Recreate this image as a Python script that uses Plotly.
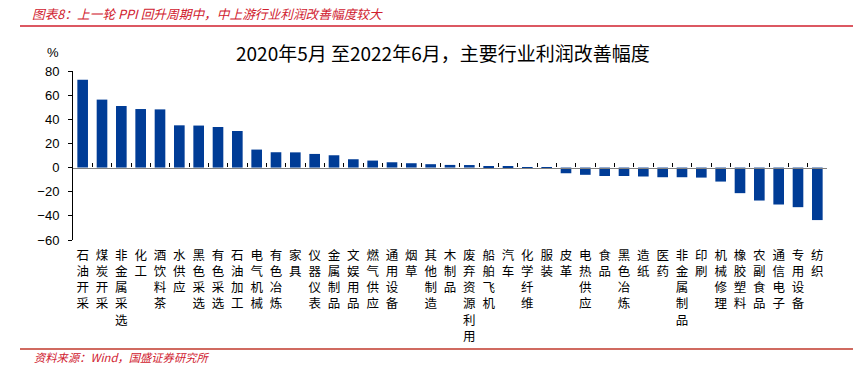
import plotly.graph_objects as go

categories = ["石油开采", "煤炭开采", "非金属采选", "化工", "酒饮料茶", "水供应", "黑色采选",
              "有色采选", "石油加工", "电气机械", "有色冶炼", "家具", "仪器仪表", "金属制品",
              "文娱用品", "燃气供应", "通用设备", "烟草", "其他制造", "木制品", "废弃资源利用",
              "船舶飞机", "汽车", "化学纤维", "服装", "皮革", "电热供应", "食品", "黑色冶炼",
              "造纸", "医药", "非金属制品", "印刷", "机械修理", "橡胶塑料", "农副食品",
              "通信电子", "专用设备", "纺织"]
values = [72.7, 56.3, 51.0, 48.5, 48.2, 35.0, 34.8, 33.6, 30.3, 14.9, 12.7, 12.6, 11.3, 10.2,
          6.9, 5.8, 4.4, 3.6, 2.8, 2.2, 2.1, 1.1, 0.8, 0.3, -1.0, -4.7, -6.0, -7.0, -7.0,
          -7.4, -8.0, -8.0, -8.3, -11.6, -21.2, -27.3, -30.6, -32.8, -43.5]
y_ticks = [-60, -40, -20, 0, 20, 40, 60, 80]

header = "图表8：上一轮 PPI 回升周期中，中上游行业利润改善幅度较大"
title = "2020年5月 至2022年6月，主要行业利润改善幅度"
source = "资料来源：Wind，国盛证券研究所"

RED = "#D0202E"
BLUE = "#003C96"
CJK = "Noto Sans CJK SC"

labels = ["<br>".join(list(c)) for c in categories]

fig = go.Figure()
fig.add_trace(go.Bar(x=labels, y=values, marker=dict(color=BLUE, line=dict(width=0)),
                     width=0.55, showlegend=False, hoverinfo="x+y"))
# invisible trace for the zero-crossing axis
fig.add_trace(go.Scatter(x=labels, y=[0] * len(labels), xaxis="x2", mode="none",
                         showlegend=False, hoverinfo="skip"))

L, R, T, B = 73, 26, 71, 125
W, H = 853, 365
pw, ph = W - L - R, H - T - B

def px_x(x):
    return (x - L) / pw

def px_y(y):
    return (H - B - y) / ph

fig.update_layout(
    width=W, height=H,
    margin=dict(l=L, r=R, t=T, b=B, autoexpand=False),
    paper_bgcolor="white", plot_bgcolor="white",
    font=dict(family=CJK, color="#000000"),
    xaxis=dict(type="category", showline=False, ticks="", showgrid=False, automargin=False,
               tickfont=dict(family=CJK, size=12.5, color="#000"), tickangle=0,
               ticklabelstandoff=6, range=[-0.5, len(categories) - 0.5]),
    xaxis2=dict(type="category", overlaying="x", matches="x", anchor="free",
                position=60 / 140, side="bottom", showline=True, linecolor="#808080",
                linewidth=1.3, ticks="inside", tickson="boundaries", ticklen=4,
                tickcolor="#000", tickwidth=1, showticklabels=False, showgrid=False),
    yaxis=dict(range=[-60, 80], tickvals=y_ticks, showgrid=False, zeroline=False,
               showline=True, linecolor="#000", linewidth=1, ticks="outside", ticklen=4,
               tickcolor="#000", ticklabelstandoff=6, automargin=False,
               tickfont=dict(family="Liberation Sans", size=13, color="#000")),
    bargap=0.45,
)

fig.add_annotation(text="<i>" + header + "</i>", xref="paper", yref="paper",
                   x=px_x(30), y=px_y(13), xanchor="left", yanchor="middle",
                   showarrow=False, font=dict(family=CJK, size=12.7, color=RED))
fig.add_annotation(text=title, xref="paper", yref="paper", x=px_x(443), y=px_y(52),
                   xanchor="center", yanchor="middle", showarrow=False,
                   font=dict(family=CJK, size=19, color="#000"))
fig.add_annotation(text="%", xref="paper", yref="paper", x=px_x(53), y=px_y(53),
                   xanchor="center", yanchor="middle", showarrow=False,
                   font=dict(family="Liberation Sans", size=13, color="#000"))
fig.add_annotation(text="<i>" + source + "</i>", xref="paper", yref="paper",
                   x=px_x(32), y=px_y(356.5), xanchor="left", yanchor="middle",
                   showarrow=False, font=dict(family=CJK, size=11.3, color=RED))

fig.add_shape(type="line", xref="paper", yref="paper", x0=px_x(20), x1=px_x(853),
              y0=px_y(26), y1=px_y(26), line=dict(color=RED, width=1.3))
fig.add_shape(type="line", xref="paper", yref="paper", x0=px_x(20), x1=px_x(853),
              y0=px_y(349), y1=px_y(349), line=dict(color="#C0392B", width=1.3))

fig.write_html("out.html", config={"displayModeBar": False},
               post_script="document.body.style.margin='0';"
               "document.body.style.overflow='hidden';")
